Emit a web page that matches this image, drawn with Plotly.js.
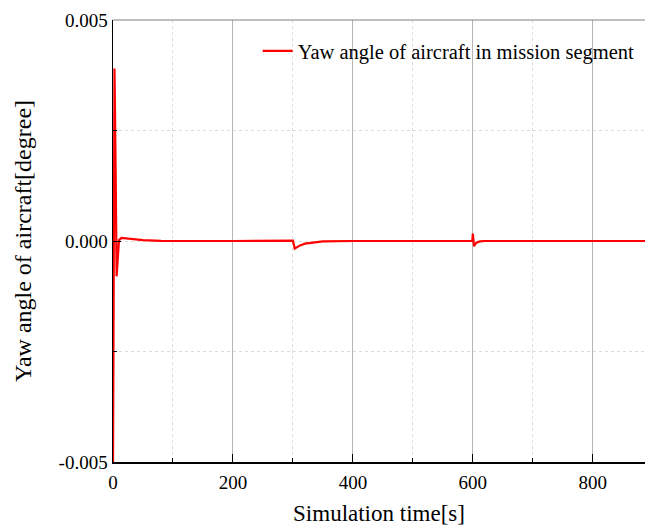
<!DOCTYPE html>
<html>
<head>
<meta charset="utf-8">
<script src="https://cdn.plot.ly/plotly-3.0.1.min.js"></script>
<style>
  html, body { margin: 0; padding: 0; background: #ffffff; }
  #chart { width: 645px; height: 528px; }
</style>
</head>
<body>
<div id="chart"></div>
<script>
// Simulation time [s]
const timeS = [0, 1, 2.5, 4.5, 6, 8, 10, 14, 20, 30, 50, 80, 120, 200, 299, 300, 303, 306, 312, 320, 335, 350, 400,
               599, 600, 601, 602, 604, 607, 612, 620, 700, 887];
// Yaw angle of aircraft [degree]
const yawDeg = [-0.0052, -0.0010, 0.0039, 0.0015, -0.0008, -0.0004, 0.00002, 0.00007, 0.00006, 0.00004, 0.00002, 0.000005, 0, 0, 0.00001, 0.00001,
                -0.00017, -0.00014, -0.00010, -0.00006, -0.00003, -0.00001, 0,
                0, 0.00017, -0.00011, -0.00012, -0.00007, -0.00003, -0.00001, 0, 0, 0];

const yTickVals = [-0.005, 0, 0.005];
const yTickText = ['-0.005', '0.000', '0.005'];
const xTickVals = [0, 200, 400, 600, 800];
const xTickText = ['0', '200', '400', '600', '800'];

const serif = 'Liberation Serif, Times New Roman, serif';

const trace = {
  x: timeS,
  y: yawDeg,
  type: 'scatter',
  mode: 'lines',
  name: 'Yaw angle of aircraft in mission segment',
  line: { color: '#ff0000', width: 2.2 }
};

const layout = {
  width: 645,
  height: 528,
  margin: { l: 113, r: 0, t: 20, b: 66 },
  paper_bgcolor: '#ffffff',
  plot_bgcolor: '#ffffff',
  font: { family: serif, color: '#000000', size: 19 },
  showlegend: true,
  legend: {
    x: 0.99, y: 0.975, xanchor: 'right', yanchor: 'top',
    bgcolor: 'rgba(255,255,255,0)',
    borderwidth: 0,
    font: { family: serif, size: 20.5, color: '#000000' }
  },
  xaxis: {
    range: [0, 887],
    tickvals: xTickVals,
    ticktext: xTickText,
    ticks: 'inside',
    ticklen: 8,
    tickcolor: '#000000',
    tickfont: { family: serif, size: 19 },
    ticklabelstandoff: 3,
    showline: true,
    linecolor: '#000000',
    linewidth: 1.5,
    showgrid: true,
    gridcolor: '#b4b4b4',
    gridwidth: 1,
    zeroline: false,
    minor: {
      dtick: 100,
      tick0: 0,
      ticks: 'inside',
      ticklen: 4,
      tickcolor: '#000000',
      showgrid: true,
      gridcolor: '#dcdcdc',
      griddash: 'dot',
      gridwidth: 1
    },
    title: { text: 'Simulation time[s]', font: { family: serif, size: 23 }, standoff: 12 }
  },
  yaxis: {
    range: [-0.005, 0.005],
    tickvals: yTickVals,
    ticktext: yTickText,
    ticks: 'inside',
    ticklen: 8,
    tickcolor: '#000000',
    tickfont: { family: serif, size: 19 },
    showline: true,
    linecolor: '#000000',
    linewidth: 1.5,
    showgrid: false,
    zeroline: false,
    minor: {
      dtick: 0.0025,
      tick0: 0,
      ticks: 'inside',
      ticklen: 4,
      tickcolor: '#000000',
      showgrid: true,
      gridcolor: '#dcdcdc',
      griddash: 'dot',
      gridwidth: 1
    },
    title: { text: 'Yaw angle of aircraft[degree]', font: { family: serif, size: 24 }, standoff: 20 }
  },
  shapes: [
    { type: 'line', xref: 'paper', yref: 'paper', x0: 0, x1: 1, y0: 1, y1: 1,
      line: { color: '#808080', width: 1.2 } }
  ]
};

Plotly.newPlot('chart', [trace], layout, { displayModeBar: false, staticPlot: true });
</script>
</body>
</html>
